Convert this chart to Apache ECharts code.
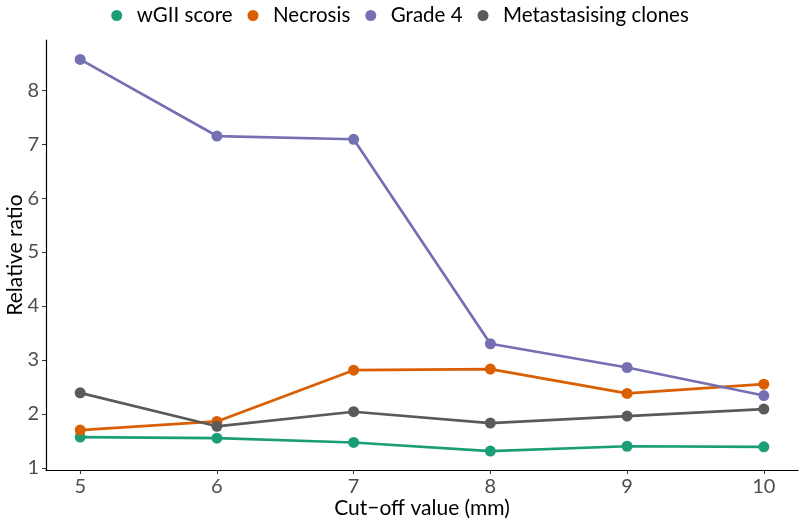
<!DOCTYPE html>
<html><head><meta charset="utf-8">
<script src="https://cdn.jsdelivr.net/npm/echarts@6/dist/echarts.min.js"></script>
<style>html,body{margin:0;padding:0;background:#fff}#c{width:800px;height:524px}</style>
</head><body><div id="c"></div>
<script>
const cutoffs = [5, 6, 7, 8, 9, 10];
const wGII = [1.57, 1.55, 1.47, 1.31, 1.40, 1.39];
const necrosis = [1.70, 1.86, 2.81, 2.83, 2.38, 2.55];
const grade4 = [8.57, 7.15, 7.09, 3.30, 2.86, 2.34];
const metast = [2.39, 1.77, 2.04, 1.83, 1.96, 2.09];
const yTicks = [1, 2, 3, 4, 5, 6, 7, 8];
const xTicks = [5, 6, 7, 8, 9, 10];
const names = ['wGII score', 'Necrosis', 'Grade 4', 'Metastasising clones'];
const colors = ['#1B9E77', '#D95F02', '#7570B3', '#5a5a5a'];
const values = [wGII, necrosis, grade4, metast];
const font = 'Lato';
const chart = echarts.init(document.getElementById('c'));
chart.setOption({
  animation: false,
  textStyle: {fontFamily: font},
  legend: {
    top: 0, left: 'center', icon: 'circle', itemWidth: 30, itemHeight: 11, itemGap: 15,
    symbolKeepAspect: true,
    textStyle: {fontSize: 20.5, color: '#000', fontFamily: font},
    data: names
  },
  grid: {left: 46, right: 2, top: 40, bottom: 54, outerBoundsMode: 'none', containLabel: false},
  xAxis: {
    type: 'value', min: 4.75, max: 10.25,
    name: 'Cut\u2212off value (mm)', nameLocation: 'middle', nameGap: 28,
    nameMoveOverlap: false,
    nameTextStyle: {fontSize: 21, color: '#000', fontFamily: font},
    axisLine: {show: true, lineStyle: {color: '#000', width: 1.2}},
    axisTick: {show: true, customValues: xTicks, length: 4, lineStyle: {color: '#333'}},
    axisLabel: {customValues: xTicks, fontSize: 20, color: '#4d4d4d', margin: 7, fontFamily: font},
    splitLine: {show: false}
  },
  yAxis: {
    type: 'value', min: 0.96, max: 8.93,
    name: 'Relative ratio', nameLocation: 'middle', nameGap: 20, nameRotate: 90,
    nameMoveOverlap: false,
    nameTextStyle: {fontSize: 21, color: '#000', fontFamily: font},
    axisLine: {show: true, lineStyle: {color: '#000', width: 1.2}},
    axisTick: {show: true, customValues: yTicks, length: 4, lineStyle: {color: '#333'}},
    axisLabel: {customValues: yTicks, fontSize: 20, color: '#4d4d4d', margin: 7, fontFamily: font},
    splitLine: {show: false}
  },
  series: names.map((n, i) => ({
    name: n, type: 'line',
    data: cutoffs.map((x, j) => [x, values[i][j]]),
    symbol: 'circle', symbolSize: 11,
    lineStyle: {color: colors[i], width: 2.7},
    itemStyle: {color: colors[i]},
    z: 2 + i
  }))
});
</script></body></html>
